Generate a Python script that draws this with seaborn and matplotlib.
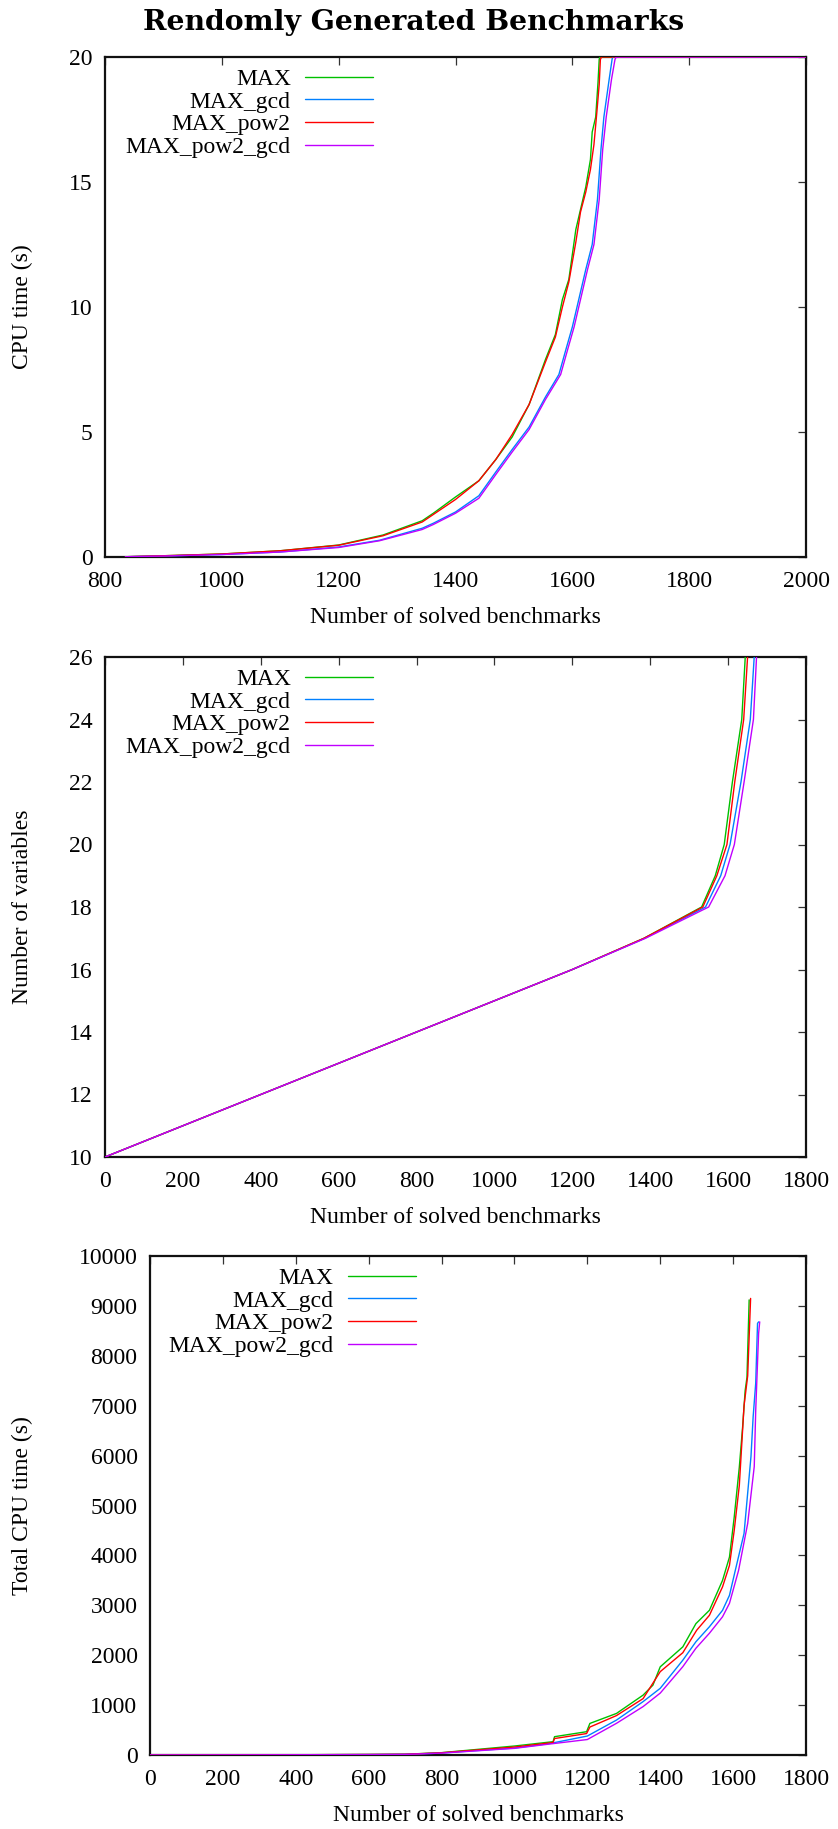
import matplotlib
matplotlib.use("Agg")
import matplotlib.pyplot as plt
import numpy as np
import pandas as pd
import seaborn as sns
from matplotlib.lines import Line2D

# ---------------- data ----------------
series_names = ["MAX", "MAX_gcd", "MAX_pow2", "MAX_pow2_gcd"]
series_colors = ["#00c000", "#0080ff", "#ff0000", "#c000ff"]

# Panel 1: CPU time (s) vs number of solved benchmarks (timeouts at 20 s)
p1_max_x = [835, 900, 1000, 1100, 1200, 1276, 1343, 1362, 1400, 1440, 1469, 1497, 1526, 1554, 1571, 1583, 1594, 1606, 1614, 1623, 1631, 1634, 1640, 1644, 1646, 1647, 2000]
p1_max_y = [0.01, 0.05, 0.12, 0.25, 0.48, 0.88, 1.45, 1.75, 2.4, 3.05, 3.9, 4.8, 6.1, 7.9, 8.9, 10.3, 11.1, 13.1, 13.9, 14.8, 15.9, 17.0, 17.6, 19.0, 19.9, 20, 20]
p1_gcd_x = [835, 900, 1000, 1100, 1200, 1270, 1343, 1362, 1400, 1440, 1469, 1497, 1526, 1554, 1577, 1589, 1600, 1611, 1623, 1634, 1643, 1649, 1654, 1663, 1668, 1669, 2000]
p1_gcd_y = [0.01, 0.04, 0.1, 0.2, 0.4, 0.67, 1.15, 1.35, 1.8, 2.45, 3.4, 4.3, 5.2, 6.4, 7.3, 8.3, 9.2, 10.3, 11.5, 12.5, 14.3, 16.3, 17.6, 19.1, 19.9, 20, 20]
p1_pow2_x = [835, 900, 1000, 1100, 1200, 1276, 1343, 1362, 1400, 1440, 1469, 1497, 1526, 1554, 1571, 1583, 1594, 1606, 1614, 1623, 1631, 1637, 1642, 1646, 1648, 1650, 2000]
p1_pow2_y = [0.01, 0.05, 0.12, 0.25, 0.47, 0.85, 1.4, 1.7, 2.3, 3.05, 3.9, 4.9, 6.1, 7.8, 8.8, 10.0, 11.0, 12.6, 13.8, 14.6, 15.5, 16.5, 17.8, 18.9, 19.9, 20, 20]
p1_pow2gcd_x = [835, 900, 1000, 1100, 1200, 1270, 1343, 1362, 1400, 1440, 1469, 1497, 1526, 1554, 1580, 1592, 1603, 1614, 1626, 1637, 1646, 1652, 1658, 1667, 1673, 1675, 2000]
p1_pow2gcd_y = [0.01, 0.04, 0.1, 0.2, 0.38, 0.65, 1.1, 1.3, 1.75, 2.35, 3.3, 4.2, 5.1, 6.3, 7.3, 8.3, 9.2, 10.3, 11.5, 12.5, 14.3, 16.3, 17.6, 19.1, 19.9, 20, 20]

# Panel 2: number of variables vs number of solved benchmarks
p2_y = [10, 16, 17, 18, 19, 20, 22, 24, 26]
p2_max_x = [0, 1200, 1384, 1532, 1567, 1590, 1611, 1635, 1644]
p2_gcd_x = [0, 1200, 1386, 1542, 1581, 1605, 1633, 1657, 1667]
p2_pow2_x = [0, 1200, 1384, 1535, 1571, 1597, 1617, 1640, 1650]
p2_pow2gcd_x = [0, 1200, 1388, 1550, 1592, 1616, 1641, 1665, 1673]

# Panel 3: total CPU time (s) vs number of solved benchmarks
p3_max_x = [0, 200, 400, 600, 700, 800, 1000, 1106, 1110, 1198, 1207, 1280, 1353, 1380, 1400, 1462, 1498, 1535, 1571, 1590, 1603, 1617, 1626, 1633, 1638, 1644]
p3_max_y = [0, 2, 5, 10, 15, 47, 180, 267, 367, 467, 633, 833, 1200, 1400, 1767, 2167, 2633, 2900, 3500, 3967, 4767, 5767, 6567, 7300, 7567, 9120]
p3_gcd_x = [0, 200, 400, 600, 700, 800, 1000, 1097, 1200, 1280, 1353, 1400, 1462, 1498, 1535, 1571, 1590, 1606, 1630, 1649, 1655, 1662, 1667, 1670]
p3_gcd_y = [0, 2, 5, 8, 12, 40, 140, 230, 380, 700, 1070, 1336, 1900, 2270, 2570, 2900, 3200, 3700, 4440, 5980, 6780, 7450, 8650, 8680]
p3_pow2_x = [0, 200, 400, 600, 700, 800, 1000, 1106, 1110, 1198, 1207, 1280, 1353, 1400, 1462, 1500, 1535, 1571, 1590, 1603, 1617, 1630, 1640, 1648]
p3_pow2_y = [0, 2, 5, 10, 14, 45, 160, 250, 330, 430, 560, 790, 1130, 1670, 2050, 2500, 2800, 3370, 3800, 4500, 5400, 7000, 7600, 9150]
p3_pow2gcd_x = [0, 200, 400, 600, 700, 800, 1000, 1097, 1200, 1280, 1353, 1400, 1462, 1498, 1535, 1571, 1590, 1615, 1640, 1658, 1662, 1670, 1673]
p3_pow2gcd_y = [0, 2, 5, 8, 12, 38, 133, 220, 310, 635, 970, 1240, 1770, 2140, 2440, 2770, 3040, 3700, 4640, 5780, 6900, 8450, 8680]

p1_xticks = [800, 1000, 1200, 1400, 1600, 1800, 2000]
p1_yticks = [0, 5, 10, 15, 20]
p2_xticks = [0, 200, 400, 600, 800, 1000, 1200, 1400, 1600, 1800]
p2_yticks = [10, 12, 14, 16, 18, 20, 22, 24, 26]
p3_xticks = [0, 200, 400, 600, 800, 1000, 1200, 1400, 1600, 1800]
p3_yticks = [0, 1000, 2000, 3000, 4000, 5000, 6000, 7000, 8000, 9000, 10000]

title_text = "Rendomly Generated Benchmarks"
xlabel_text = "Number of solved benchmarks"
p1_ylabel = "CPU time (s)"
p2_ylabel = "Number of variables"
p3_ylabel = "Total CPU time (s)"

# ---------------- style ----------------
sns.set_theme(style="white")
plt.rcParams["font.family"] = ["Liberation Serif", "DejaVu Serif"]
plt.rcParams["axes.edgecolor"] = "#111111"
plt.rcParams["axes.linewidth"] = 1.6
plt.rcParams["text.color"] = "black"
plt.rcParams["axes.labelcolor"] = "black"
plt.rcParams["xtick.color"] = "black"
plt.rcParams["ytick.color"] = "black"

palette = dict(zip(series_names, series_colors))


def long_df(xs, ys):
    frames = []
    for name, x, y in zip(series_names, xs, ys):
        frames.append(pd.DataFrame({"x": x, "y": y, "series": name}))
    return pd.concat(frames, ignore_index=True)


df1 = long_df([p1_max_x, p1_gcd_x, p1_pow2_x, p1_pow2gcd_x],
              [p1_max_y, p1_gcd_y, p1_pow2_y, p1_pow2gcd_y])
df2 = long_df([p2_max_x, p2_gcd_x, p2_pow2_x, p2_pow2gcd_x],
              [p2_y, p2_y, p2_y, p2_y])
df3 = long_df([p3_max_x, p3_gcd_x, p3_pow2_x, p3_pow2gcd_x],
              [p3_max_y, p3_gcd_y, p3_pow2_y, p3_pow2gcd_y])

W, H = 838, 1829
fig = plt.figure(figsize=(W / 100, H / 100), dpi=100)


def px_axes(left, top, right, bottom):
    return fig.add_axes([left / W, 1 - bottom / H, (right - left) / W, (bottom - top) / H])


ax1 = px_axes(105, 57, 806, 557)
ax2 = px_axes(105, 657, 806, 1157)
ax3 = px_axes(150, 1256, 806, 1755)

FS = 17


def style_axes(ax, df, xlim, ylim, xticks, yticks, ylabel, ylabel_x, leg_right):
    sns.lineplot(data=df, x="x", y="y", hue="series", hue_order=series_names,
                 palette=palette, sort=False, estimator=None, units="series",
                 linewidth=1.0, legend=False, ax=ax, zorder=3)
    ax.set_xlim(*xlim)
    ax.set_ylim(*ylim)
    ax.set_xticks(xticks)
    ax.set_yticks(yticks)
    ax.tick_params(direction="in", top=True, right=True, length=5.5, width=0.9,
                   color="#333333", labelsize=FS, pad=10, labelcolor="black")
    ax.tick_params(axis="y", pad=9)
    ax.set_xlabel(xlabel_text, fontsize=FS, labelpad=11)
    ax.set_ylabel(ylabel, fontsize=FS)
    ax.yaxis.set_label_coords(ylabel_x, 0.5)
    for sp in ax.spines.values():
        sp.set_visible(True)
        sp.set_zorder(2.5)
    handles = [Line2D([], [], color=c, lw=1.0) for c in series_colors]
    ax.legend(handles, series_names, loc="upper right", bbox_to_anchor=(leg_right, 0.977),
              frameon=False, markerfirst=False, fontsize=FS, handlelength=2.9,
              handletextpad=0.6, labelspacing=0.05, borderpad=0, borderaxespad=0)


style_axes(ax1, df1, (800, 2000), (0, 20), p1_xticks, p1_yticks, p1_ylabel, (33 - 105) / 701, 0.383)
style_axes(ax2, df2, (0, 1800), (10, 26), p2_xticks, p2_yticks, p2_ylabel, (33 - 105) / 701, 0.383)
style_axes(ax3, df3, (0, 1800), (0, 10000), p3_xticks, p3_yticks, p3_ylabel, (33 - 150) / 656, 0.406)

fig.text(414 / W, 1 - 23 / H, title_text, ha="center", va="center",
         fontsize=20.3, fontweight="bold", family=["DejaVu Serif"], color="black")

fig.savefig("out.png", dpi=100)
